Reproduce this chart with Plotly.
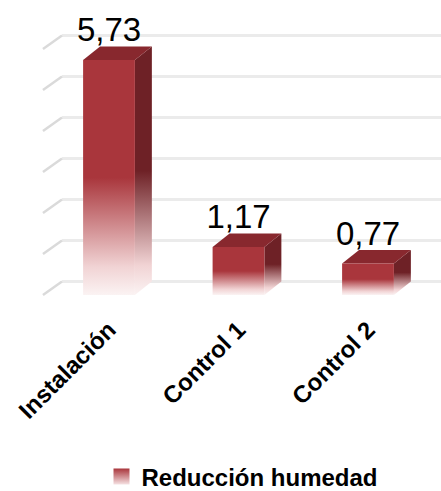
import plotly.graph_objects as go

categories = ["Instalación", "Control 1", "Control 2"]
values = [5.73, 1.17, 0.77]
value_labels = ["5,73", "1,17", "0,77"]
series_name = "Reducción humedad"
grid_values = [0, 1, 2, 3, 4, 5, 6]

# style / geometry
W = 0.2      # half width of bar (category units)
DX = 0.131   # depth offset in x
DY = 0.33    # depth offset in y
FRONT = "#A9363C"
TOP = "#88282E"
SIDE = "#6E2126"
FONT = "Liberation Sans, Arial, sans-serif"

def grad(color):
    return dict(type="vertical",
                colorscale=[[0, "#FBF3F3"], [0.12, "#F1D3D4"], [0.5, color], [1, color]])

fig = go.Figure()

x_left_front = -0.51
x_left_back = x_left_front + DX + 0.016
x_right = 2.5637

# back wall gridlines and left-wall diagonals
for g in grid_values:
    fig.add_trace(go.Scatter(x=[x_left_back, x_right], y=[g + DY, g + DY], mode="lines",
                             line=dict(color="#EBEBEB", width=3), hoverinfo="skip",
                             showlegend=False))
    fig.add_trace(go.Scatter(x=[x_left_front, x_left_back], y=[g, g + DY], mode="lines",
                             line=dict(color="#DADADA", width=2.5), hoverinfo="skip",
                             showlegend=False))

for i, (c, v) in enumerate(zip(categories, values)):
    xl, xr = i - W, i + W
    # side face
    fig.add_trace(go.Scatter(
        x=[xr, xr + DX, xr + DX, xr, xr], y=[0, DY, v + DY, v, 0],
        fill="toself", mode="none", fillgradient=dict(**grad(SIDE), start=0, stop=v + DY),
        hoverinfo="skip", showlegend=False))
    # top face
    fig.add_trace(go.Scatter(
        x=[xl, xr, xr + DX, xl + DX, xl], y=[v, v, v + DY, v + DY, v],
        fill="toself", mode="none", fillcolor=TOP, hoverinfo="skip", showlegend=False))
    # front face
    fig.add_trace(go.Scatter(
        x=[xl, xr, xr, xl, xl], y=[0, 0, v, v, 0],
        fill="toself", mode="none", fillgradient=dict(**grad(FRONT), start=0, stop=v),
        hoverinfo="skip", showlegend=False))

# legend entry
fig.add_trace(go.Scatter(
    x=[None], y=[None], mode="markers", name=series_name,
    marker=dict(symbol="square", size=16, color=FRONT,
                gradient=dict(type="vertical", color="#F6E3E4"))))

fig.add_trace(go.Scatter(
    x=list(range(len(categories))), y=[v + DY - 0.07 for v in values], mode="text",
    text=value_labels, textposition="top center",
    textfont=dict(size=33, color="black", family=FONT),
    hoverinfo="skip", showlegend=False))

PLOT_BOTTOM = 300
fig.update_layout(
    width=441, height=491,
    margin=dict(l=0, r=0, t=0, b=0, autoexpand=False),
    paper_bgcolor="white", plot_bgcolor="white",
    font=dict(family=FONT, color="black"),
    xaxis=dict(range=[-0.8417, x_right], domain=[0, 1], tickvals=[0, 1, 2],
               ticktext=categories, tickangle=-45, showgrid=False, zeroline=False,
               showline=False, ticks="", automargin=False, ticklabelstandoff=10,
               tickfont=dict(size=24, color="black", family=FONT, weight="bold")),
    yaxis=dict(range=[(295 - PLOT_BOTTOM) / 41, 295 / 41], domain=[1 - PLOT_BOTTOM / 491, 1],
               showgrid=False, zeroline=False, showticklabels=False, showline=False,
               automargin=False),
    legend=dict(orientation="h", x=0.5 + 22 / 441, xanchor="center", y=1 - 477 / 491,
                yanchor="middle",
                font=dict(size=24, color="black", family=FONT, weight="bold")),
    showlegend=True,
)

fig.write_html("out.html", config={"displayModeBar": False},
               post_script="document.body.style.margin='0';document.body.style.padding='0';")
